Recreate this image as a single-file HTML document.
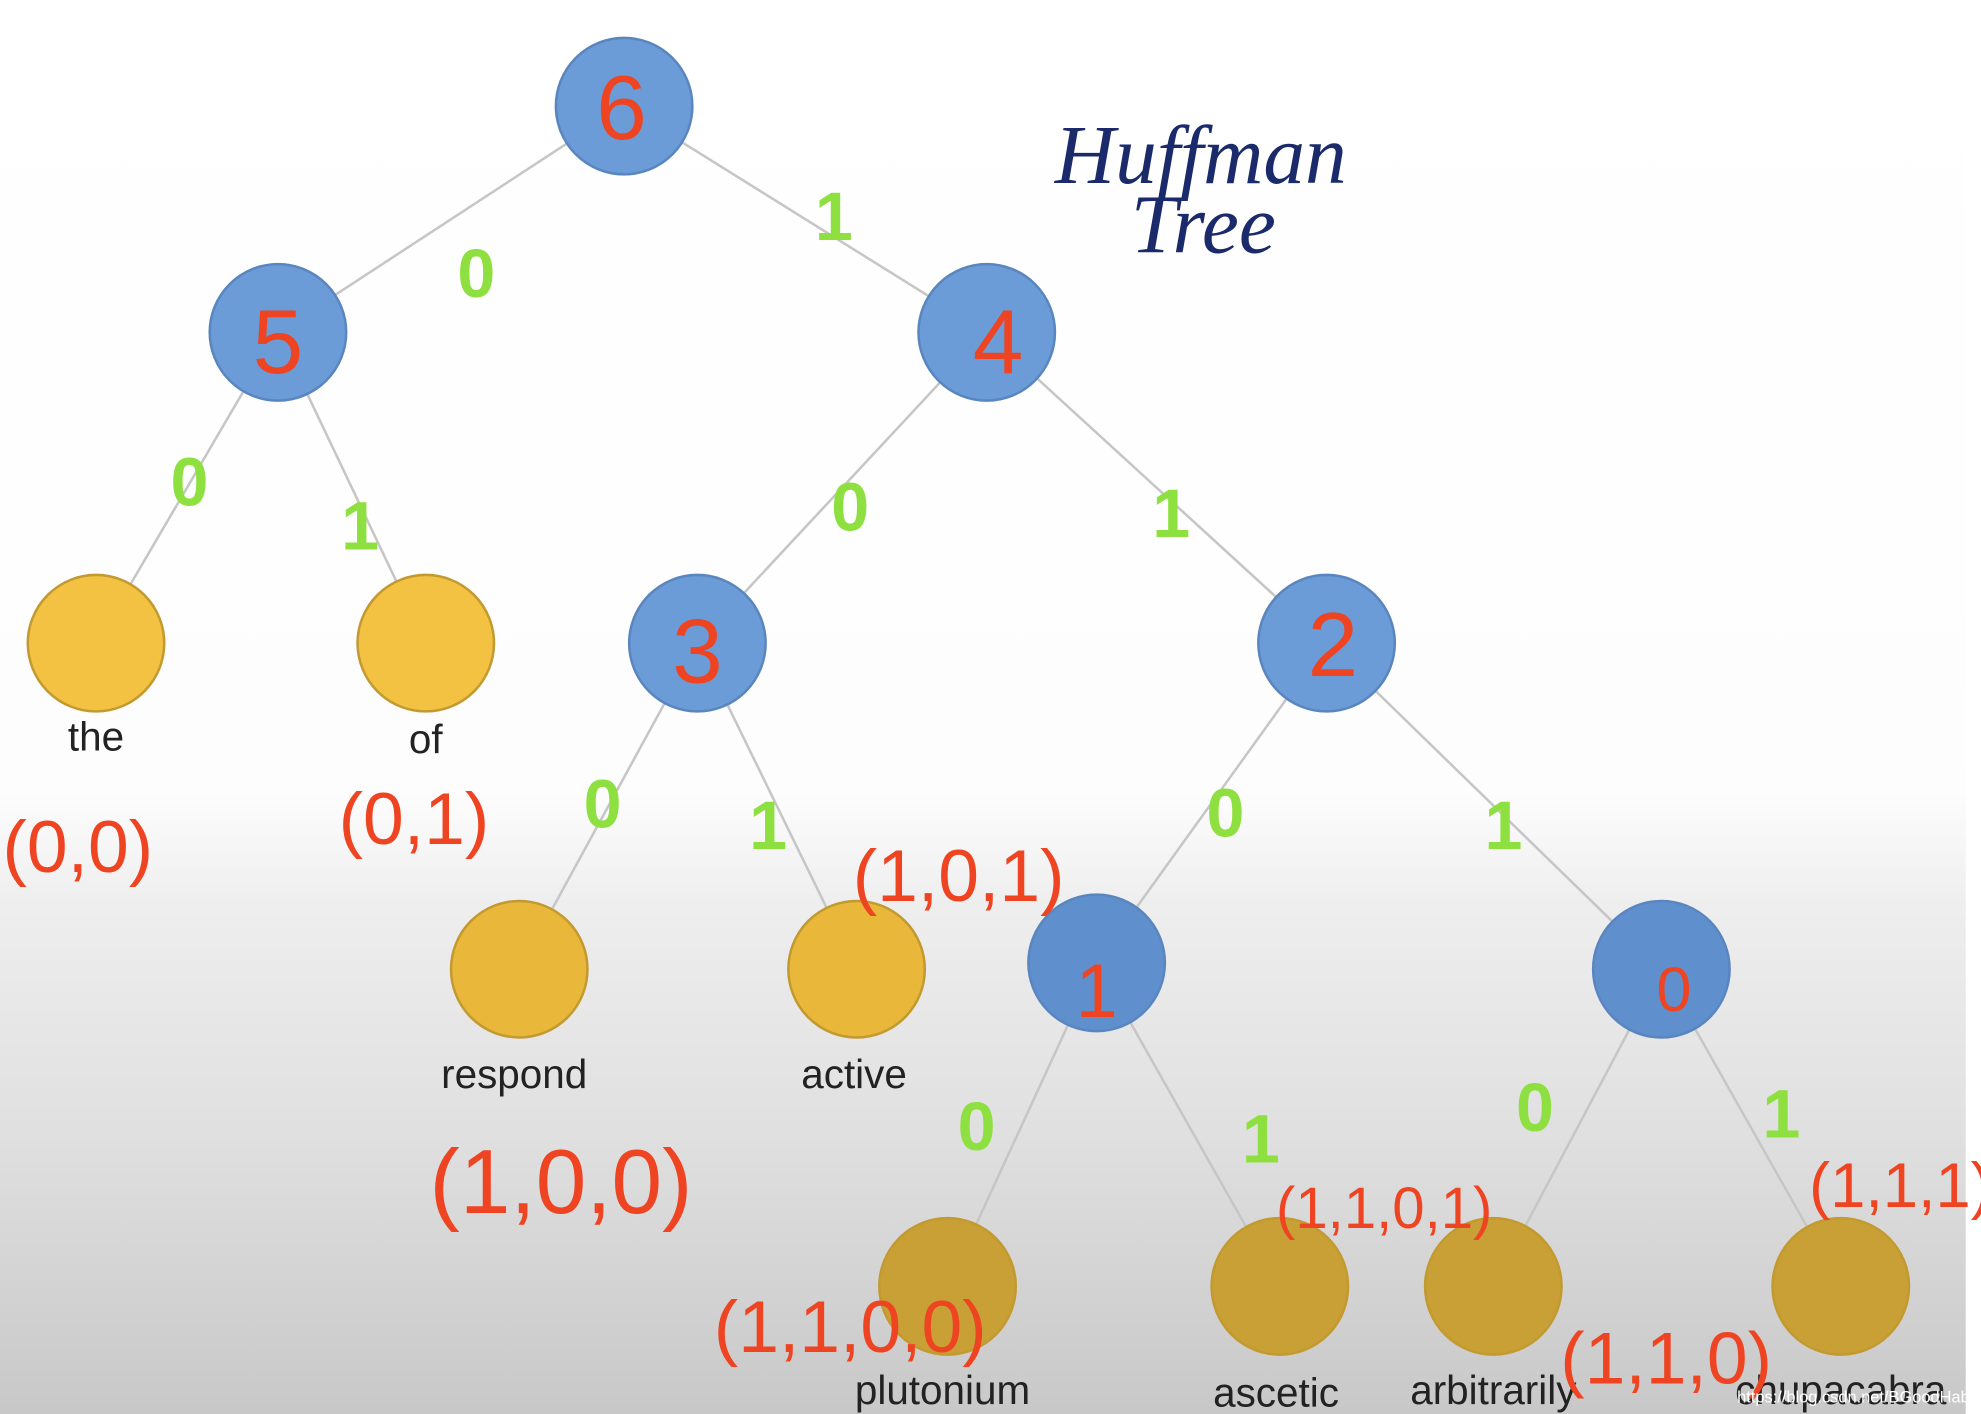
<!DOCTYPE html>
<html><head><meta charset="utf-8"><style>
html,body{margin:0;padding:0;background:#fff;}
svg{display:block;}
</style></head><body>
<svg width="1981" height="1414" viewBox="0 0 1568 1119" preserveAspectRatio="none" xmlns="http://www.w3.org/2000/svg">
<defs>
<linearGradient id="bg" x1="0" y1="0" x2="0" y2="1">
<stop offset="0" stop-color="#ffffff"/>
<stop offset="0.56" stop-color="#fdfdfd"/>
<stop offset="0.64" stop-color="#eeeeee"/>
<stop offset="0.8" stop-color="#e0e0e0"/>
<stop offset="1" stop-color="#c8c8c8"/>
</linearGradient>
</defs>
<rect x="0" y="0" width="1556" height="1119" fill="url(#bg)"/>
<rect x="1556" y="0" width="12" height="1119" fill="#fff"/>
<g stroke="#c6c6c6" stroke-width="2">
<line x1="494" y1="84" x2="220" y2="263"/><line x1="494" y1="84" x2="781" y2="263"/>
<line x1="220" y1="263" x2="76" y2="509"/><line x1="220" y1="263" x2="337" y2="509"/>
<line x1="781" y1="263" x2="552" y2="509"/><line x1="781" y1="263" x2="1050" y2="509"/>
<line x1="552" y1="509" x2="411" y2="767"/><line x1="552" y1="509" x2="678" y2="767"/>
<line x1="1050" y1="509" x2="868" y2="762"/><line x1="1050" y1="509" x2="1315" y2="767"/>
<line x1="868" y1="762" x2="750" y2="1018"/><line x1="868" y1="762" x2="1013" y2="1018"/>
<line x1="1315" y1="767" x2="1182" y2="1018"/><line x1="1315" y1="767" x2="1457" y2="1018"/>
</g>
<g fill="#6b9cd8" stroke="#5a86bf" stroke-width="2">
<circle cx="494" cy="84" r="54"/><circle cx="220" cy="263" r="54"/><circle cx="781" cy="263" r="54"/>
<circle cx="552" cy="509" r="54"/><circle cx="1050" cy="509" r="54"/>
<circle cx="868" cy="762" r="54" fill="#5f8fcd"/><circle cx="1315" cy="767" r="54" fill="#5f8fcd"/>
</g>
<g stroke="#c29a30" stroke-width="2">
<circle cx="76" cy="509" r="54" fill="#f4c242"/><circle cx="337" cy="509" r="54" fill="#f4c242"/>
<circle cx="411" cy="767" r="54" fill="#e9b83b"/><circle cx="678" cy="767" r="54" fill="#e9b83b"/>
<circle cx="750" cy="1018" r="54" fill="#c9a035"/><circle cx="1013" cy="1018" r="54" fill="#c9a035"/>
<circle cx="1182" cy="1018" r="54" fill="#c9a035"/><circle cx="1457" cy="1018" r="54" fill="#c9a035"/>
</g>
<g font-family="Liberation Sans, sans-serif" font-size="32" fill="#222" text-anchor="middle">
<text x="76" y="594">the</text><text x="337" y="596">of</text>
<text x="407" y="861">respond</text><text x="676" y="861">active</text>
<text x="746" y="1111">plutonium</text><text x="1010" y="1113">ascetic</text>
<text x="1182" y="1111">arbitrarily</text><text x="1457" y="1111">chupacabra</text>
</g>
<g font-family="Liberation Sans, sans-serif" fill="#ee4422" text-anchor="middle" font-size="72">
<text x="492" y="110">6</text><text x="220" y="295">5</text><text x="790" y="295">4</text>
<text x="552" y="540">3</text><text x="1055" y="535">2</text><text x="868" y="805" font-size="60">1</text>
<text x="1325" y="800" font-size="50">0</text>
</g>
<g font-family="Liberation Sans, sans-serif" fill="#8ee040" text-anchor="middle" font-size="54" font-weight="bold">
<text x="377" y="235">0</text><text x="660" y="190">1</text>
<text x="150" y="400">0</text><text x="285" y="435">1</text>
<text x="673" y="420">0</text><text x="927" y="425">1</text>
<text x="477" y="655">0</text><text x="608" y="672">1</text>
<text x="970" y="662">0</text><text x="1190" y="672">1</text>
<text x="773" y="910">0</text><text x="998" y="920">1</text>
<text x="1215" y="895">0</text><text x="1410" y="900">1</text>
</g>
<g font-family="Liberation Sans, sans-serif" fill="#ee4422" font-size="58">
<text x="2" y="690">(0,0)</text>
<text x="268" y="668">(0,1)</text>
<text x="675" y="713">(1,0,1)</text>
<text x="340" y="960" font-size="72">(1,0,0)</text>
<text x="1010" y="972" font-size="46">(1,1,0,1)</text>
<text x="565" y="1070">(1,1,0,0)</text>
<text x="1235" y="1095">(1,1,0)</text>
<text x="1432" y="955" font-size="50">(1,1,1)</text>
</g>
<g font-family="Liberation Serif, serif" fill="#1a2a6a" font-size="66" font-style="italic">
<text x="835" y="145">Huffman</text><text x="895" y="200">Tree</text>
</g>
<text x="1375" y="1110" font-family="Liberation Sans, sans-serif" font-size="13" fill="#fff">https://blog.csdn.net/BGoodHabit</text>
</svg>
</body></html>
